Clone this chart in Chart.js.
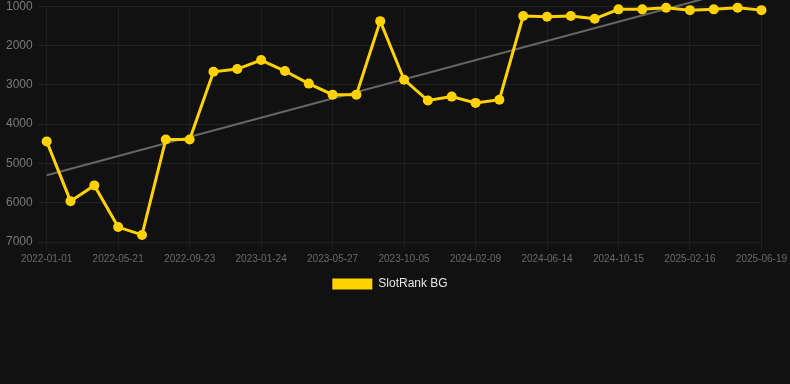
<!DOCTYPE html>
<html>
<head>
<meta charset="utf-8">
<script src="https://cdn.jsdelivr.net/npm/chart.js@4"></script>
<style>
    html, body { margin: 0; padding: 0; background: #111111; overflow: hidden; }
    .chart-container { position: relative; width: 790px; height: 307px; top: -7px; }
</style>
</head>
<body>
<div class="chart-container">
    <canvas id="rank_chart"></canvas>
</div>
<script>
const dates = [
    '2022-01-01', '2022-02-16', '2022-04-04', '2022-05-21', '2022-06-30', '2022-08-11',
    '2022-09-23', '2022-11-01', '2022-12-13', '2023-01-24', '2023-03-05', '2023-04-16',
    '2023-05-27', '2023-07-07', '2023-08-20', '2023-10-05', '2023-11-14', '2023-12-28',
    '2024-02-09', '2024-03-21', '2024-05-02', '2024-06-14', '2024-07-25', '2024-09-04',
    '2024-10-15', '2024-11-26', '2025-01-06', '2025-02-16', '2025-03-29', '2025-05-09',
    '2025-06-19'
]
const rank_values = [
    4440, 5960, 5560, 6620, 6820, 4390, 4390, 2670, 2600, 2370,
    2650, 2970, 3250, 3250, 1380, 2870, 3400, 3300, 3460, 3380,
    1250, 1270, 1250, 1320, 1080, 1080, 1040, 1100, 1080, 1040,
    1100
]
// trend line: only the two ends
const trend_values = [5300, ...new Array(29).fill(null), 420]
const y_ticks = [1000, 2000, 3000, 4000, 5000, 6000, 7000]

new Chart(document.getElementById('rank_chart'), {
    type: 'line',
    data: {
        labels: dates,
        datasets: [
            {
                label: 'SlotRank BG',
                data: rank_values,
                borderColor: '#FFD200',
                backgroundColor: '#FFD200',
                borderWidth: 3,
                pointRadius: 5,
                pointHoverRadius: 5,
                pointBackgroundColor: '#FFD200',
                pointBorderWidth: 0,
                tension: 0,
                clip: false,
            },
            {
                label: 'trend',
                data: trend_values,
                borderColor: '#666666',
                borderWidth: 2,
                pointRadius: 0,
                spanGaps: true,
                tension: 0,
                clip: false,
            }
        ]
    },
    options: {
        responsive: true,
        maintainAspectRatio: false,
        animation: false,
        layout: { padding: { right: 10 } },
        plugins: {
            legend: {
                position: 'bottom',
                labels: {
                    color: '#e6e6e6',
                    font: { family: 'Liberation Sans, Arial', size: 12 },
                    boxWidth: 40,
                    boxHeight: 11,
                    generateLabels: chart => Chart.defaults.plugins.legend.labels.generateLabels(chart)
                        .filter(item => item.text !== 'trend')
                        .map(item => ({ ...item, lineWidth: 0 }))
                }
            },
            tooltip: { enabled: false }
        },
        scales: {
            x: {
                grid: { color: '#1e1e1e' },
                border: { color: '#1e1e1e' },
                ticks: {
                    color: '#6a6a6a',
                    font: { family: 'Liberation Sans, Arial', size: 10 },
                    maxRotation: 0,
                    autoSkip: false,
                    callback: function(value, i) { return i % 3 === 0 ? dates[i] : null }
                }
            },
            y: {
                reverse: true,
                min: 1000,
                max: 7000,
                grid: { color: '#222222' },
                border: { display: false },
                afterBuildTicks: axis => { axis.ticks = y_ticks.map(v => ({ value: v })) },
                ticks: {
                    color: '#7a7a7a',
                    font: { family: 'Liberation Sans, Arial', size: 12 },
                    padding: 6,
                    callback: value => String(value)
                }
            }
        }
    }
})
</script>
</body>
</html>
